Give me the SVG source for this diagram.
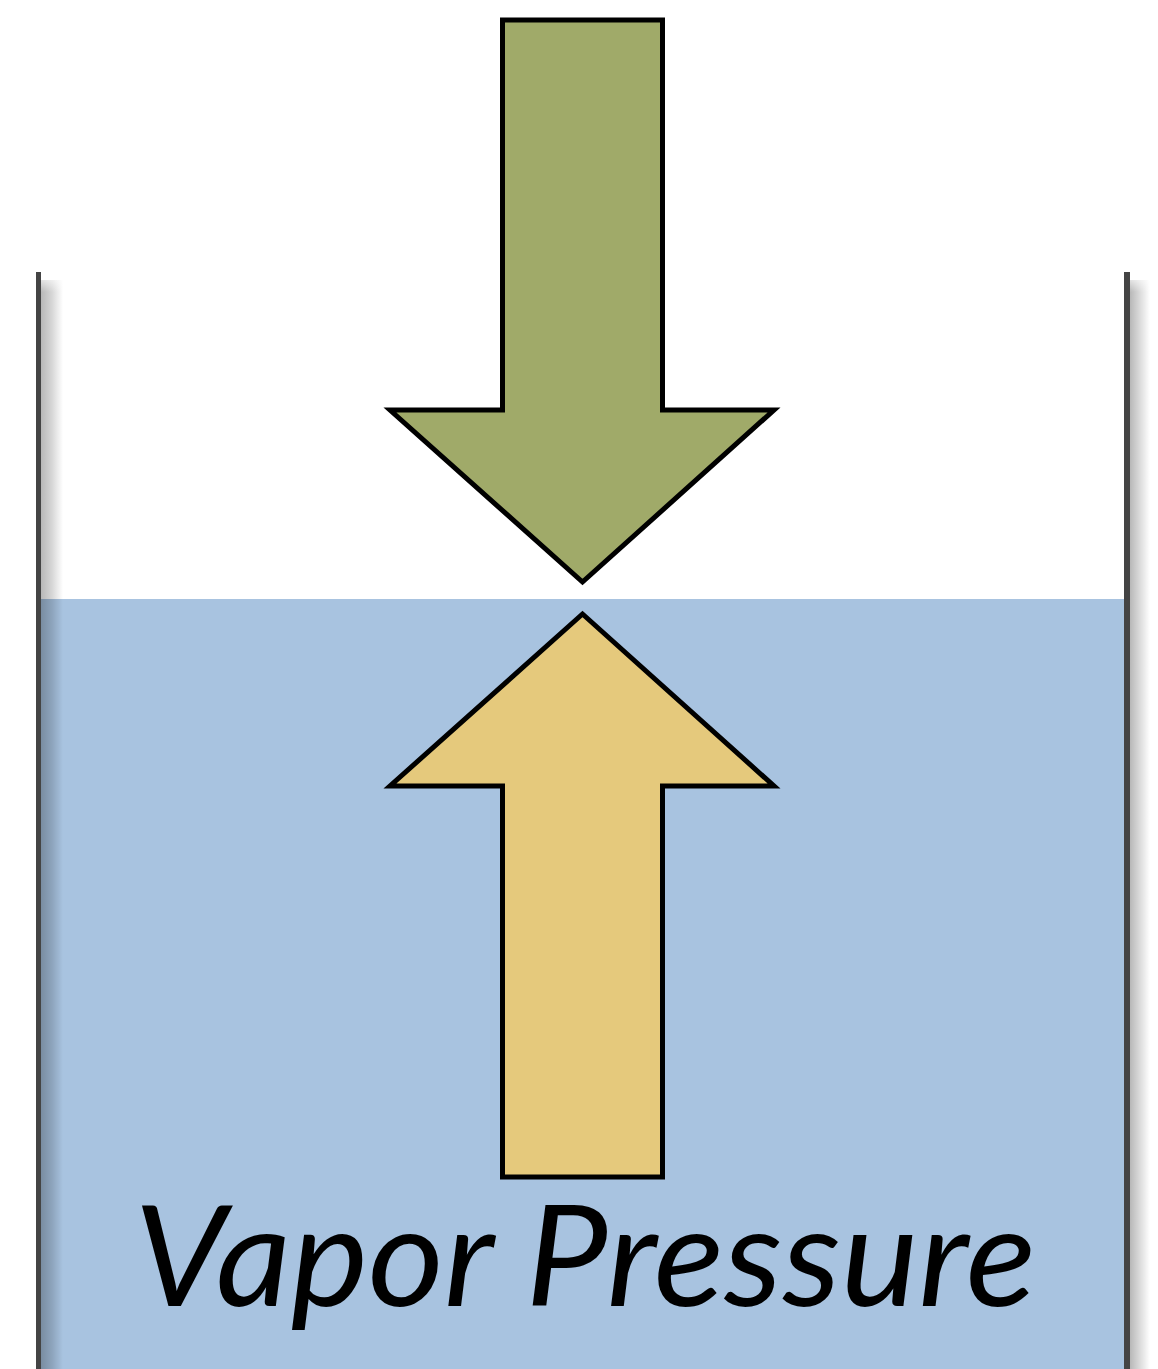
<svg xmlns="http://www.w3.org/2000/svg" width="1158" height="1369" viewBox="0 0 1158 1369">
  <defs>
    <linearGradient id="shadowL" x1="0" y1="0" x2="1" y2="0">
      <stop offset="0" stop-color="#000" stop-opacity="0.28"/>
      <stop offset="0.5" stop-color="#000" stop-opacity="0.16"/>
      <stop offset="1" stop-color="#000" stop-opacity="0"/>
    </linearGradient>
    <linearGradient id="shadowR" x1="0" y1="0" x2="1" y2="0">
      <stop offset="0" stop-color="#000" stop-opacity="0.28"/>
      <stop offset="0.5" stop-color="#000" stop-opacity="0.14"/>
      <stop offset="1" stop-color="#000" stop-opacity="0"/>
    </linearGradient>
    <linearGradient id="shadowTop" x1="0" y1="0" x2="0" y2="1">
      <stop offset="0" stop-color="#fff" stop-opacity="1"/>
      <stop offset="1" stop-color="#fff" stop-opacity="0"/>
    </linearGradient>
  </defs>
  <style>
    .wall { fill: #444444; }
    .arrow { stroke: #000; stroke-width: 5; stroke-linejoin: miter; }
    .label { font-family: Lato, "Liberation Sans", sans-serif; font-style: italic; font-weight: 400; font-size: 139px; fill: #000; }
  </style>
  <rect width="1158" height="1369" fill="#ffffff"/>
  <g id="water">
    <rect x="41" y="599" width="1083" height="770" fill="#a8c3e0"/>
  </g>
  <g id="container">
    <rect x="41" y="280" width="22" height="1089" fill="url(#shadowL)"/>
    <rect x="1130" y="280" width="20" height="1089" fill="url(#shadowR)"/>
    <rect x="41" y="272" width="24" height="20" fill="url(#shadowTop)"/>
    <rect x="1130" y="272" width="22" height="20" fill="url(#shadowTop)"/>
    <rect class="wall" x="36" y="272" width="5" height="1097"/>
    <rect class="wall" x="1124" y="272" width="6" height="1097"/>
  </g>
  <g id="connectors">
    <polygon id="downArrow" class="arrow" fill="#a0aa69" points="502.5,20 662.5,20 662.5,410 774,410 582.5,582 390,410 502.5,410"/>
    <polygon id="upArrow" class="arrow" fill="#e5c97c" points="582.5,614 774,786 662.5,786 662.5,1177 502.5,1177 502.5,786 390,786"/>
  </g>
  <g id="text">
    <text class="label" x="134" y="1306" textLength="902" lengthAdjust="spacingAndGlyphs">Vapor Pressure</text>
  </g>
</svg>
